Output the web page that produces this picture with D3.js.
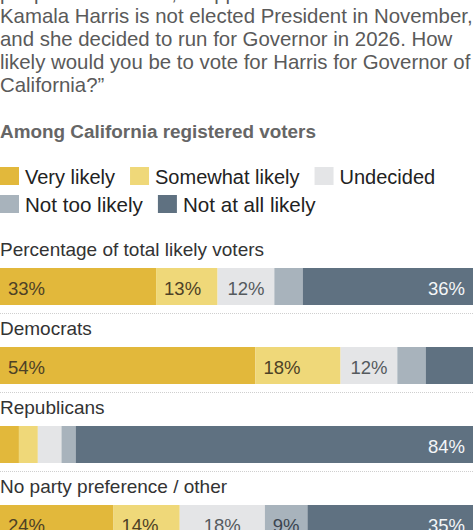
<!DOCTYPE html>
<html>
<head>
<meta charset="utf-8">
<script src="https://cdn.jsdelivr.net/npm/d3@7"></script>
<style>
  html, body { margin: 0; padding: 0; background: #fff; }
  svg { display: block; }
  text { font-family: "Liberation Sans", Arial, sans-serif; }
</style>
</head>
<body>
<svg id="chart" width="474" height="530"></svg>
<script>
// ---- data ----
const questionLines = [
  "people were asked, \u201CSuppose that Democratic nominee",
  "Kamala Harris is not elected President in November,",
  "and she decided to run for Governor in 2026. How",
  "likely would you be to vote for Harris for Governor of",
  "California?\u201D"
];
const subtitle = "Among California registered voters";
const responses = ["Very likely", "Somewhat likely", "Undecided", "Not too likely", "Not at all likely"];
const groups = ["Percentage of total likely voters", "Democrats", "Republicans", "No party preference / other"];
const veryLikely     = [33, 54, 4, 24];
const somewhatLikely = [13, 18, 4, 14];
const undecided      = [12, 12, 5, 18];
const notTooLikely   = [6, 6, 3, 9];
const notAtAllLikely = [36, 10, 84, 35];

// ---- styles ----
const colors = ["#e2b83b", "#efd879", "#e4e5e7", "#a8b3bc", "#5f7181"];
const labelColors = ["#4d4126", "#4d4126", "#555a5e", "#3a4550", "#f4f6f8"];
const align = ["left", "left", "center", "center", "right"];
const minLabel = [11, 11, 9, 9, 11];

const svg = d3.select("#chart");
const W = 474;

// question text
svg.append("g").selectAll("text").data(questionLines).join("text")
  .attr("x", 0)
  .attr("y", (d, i) => -0.5 + i * 23.2)
  .attr("fill", "#5a5a5a")
  .style("font-size", "20.4px")
  .text(d => d);

// subtitle
svg.append("text")
  .attr("x", 0).attr("y", 138)
  .attr("fill", "#666")
  .style("font-size", "18.9px")
  .style("font-weight", "bold")
  .text(subtitle);

// legend
const legendRows = [[0, 1, 2], [3, 4]];
const legendY = [167, 195];
const legendFont = [20, 20.6];
legendRows.forEach((row, r) => {
  let x = 0;
  row.forEach(k => {
    const g = svg.append("g").attr("transform", `translate(${x},${legendY[r]})`);
    g.append("rect").attr("width", 19).attr("height", 18).attr("fill", colors[k]);
    const t = g.append("text").attr("x", 25).attr("y", 16.5)
      .attr("fill", "#222").style("font-size", legendFont[r] + "px").text(responses[k]);
    x += 25 + t.node().getComputedTextLength() + 15;
  });
});

// bars
const series = [veryLikely, somewhatLikely, undecided, notTooLikely, notAtAllLikely];
const table = groups.map((g, i) => {
  const row = { group: g };
  responses.forEach((r, k) => row[r] = series[k][i]);
  return row;
});
const stack = d3.stack().keys(responses)(table);

const x = d3.scaleLinear().domain([0, 100]).range([0, 473]);
const rowY = d3.scalePoint().domain(groups).range([256, 493]);
const barH = 37, barOff = 12;

svg.append("g").selectAll("text").data(groups).join("text")
  .attr("x", 0).attr("y", d => rowY(d))
  .attr("fill", "#333")
  .style("font-size", "19px")
  .text(d => d);

// dotted separators
svg.append("g").selectAll("line").data(groups.slice(0, -1)).join("line")
  .attr("x1", 0).attr("x2", W)
  .attr("y1", d => rowY(d) + barOff + barH + 8.5)
  .attr("y2", d => rowY(d) + barOff + barH + 8.5)
  .attr("stroke", "#cfcfcf").attr("stroke-width", 1)
  .attr("stroke-dasharray", "1,1");

const layers = svg.append("g").selectAll("g").data(stack).join("g")
  .attr("fill", (d, k) => colors[k]);

layers.selectAll("rect").data(d => d.map(s => ({ s, group: s.data.group }))).join("rect")
  .attr("x", d => x(d.s[0]))
  .attr("width", d => x(d.s[1]) - x(d.s[0]))
  .attr("y", d => rowY(d.group) + barOff)
  .attr("height", barH);

// value labels
stack.forEach((layer, k) => {
  layer.forEach(s => {
    const v = s[1] - s[0];
    if (v < minLabel[k]) return;
    let tx, anchor;
    if (align[k] === "left") { tx = x(s[0]) + 8; anchor = "start"; }
    else if (align[k] === "right") { tx = x(s[1]) - 8; anchor = "end"; }
    else { tx = (x(s[0]) + x(s[1])) / 2; anchor = "middle"; }
    svg.append("text")
      .attr("x", tx)
      .attr("y", rowY(s.data.group) + barOff + 27)
      .attr("text-anchor", anchor)
      .attr("fill", labelColors[k])
      .style("font-size", "18.5px")
      .text(v + "%");
  });
});
</script>
</body>
</html>
